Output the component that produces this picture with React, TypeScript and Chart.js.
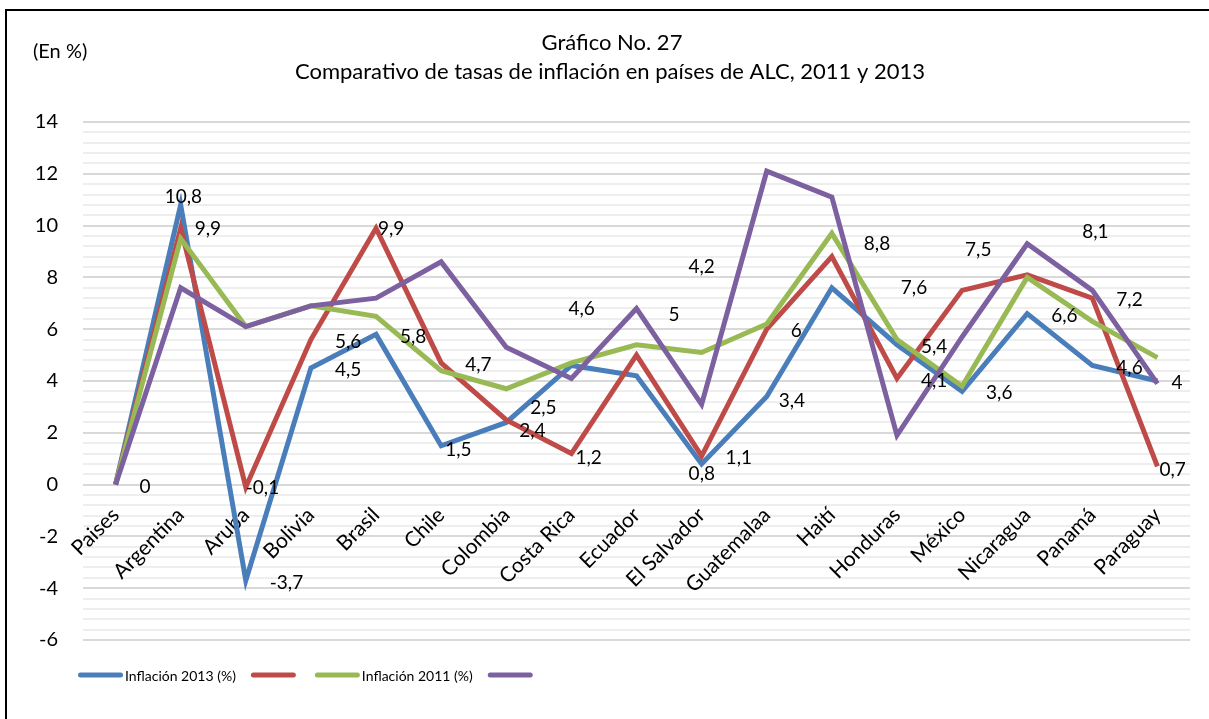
import React, { useEffect, useRef } from 'react';
import { Chart, registerables } from 'chart.js';

Chart.register(...registerables);

const categories = ['Paises', 'Argentina', 'Aruba', 'Bolivia', 'Brasil', 'Chile', 'Colombia', 'Costa Rica', 'Ecuador', 'El Salvador', 'Guatemalaa', 'Haití', 'Honduras', 'México', 'Nicaragua', 'Panamá', 'Paraguay'];
const inflacion2013 = [0, 10.8, -3.7, 4.5, 5.8, 1.5, 2.4, 4.6, 4.2, 0.8, 3.4, 7.6, 5.4, 3.6, 6.6, 4.6, 4];
const serieRoja = [0, 9.9, -0.1, 5.6, 9.9, 4.7, 2.5, 1.2, 5, 1.1, 6, 8.8, 4.1, 7.5, 8.1, 7.2, 0.7];
const inflacion2011 = [0, 9.5, 6.1, 6.9, 6.5, 4.4, 3.7, 4.7, 5.4, 5.1, 6.2, 9.7, 5.6, 3.8, 8.0, 6.3, 4.9];
const serieMorada = [0, 7.6, 6.1, 6.9, 7.2, 8.6, 5.3, 4.1, 6.8, 3.1, 12.1, 11.1, 1.9, 5.7, 9.3, 7.5, 3.9];
const seriesLabels = ['Inflación 2013 (%)', '', 'Inflación 2011 (%)', ''];
const seriesColors = ['#4a7ebb', '#be4b48', '#98b954', '#7d60a0'];
const titleLines = ['Gráfico No. 27', 'Comparativo de tasas de inflación en países de ALC, 2011 y 2013'];
const unitLabel = '(En %)';
const yMin = -6;
const yMax = 14;
const yMajorStep = 2;
const yMinorStep = 0.4;

const FONT = 'Lato, "Open Sans", sans-serif';

// label placement offsets (style only): [dx from point to label left, dy of label centre]
const DEFAULT_OFFSET: [number, number] = [24, 2];
const labelOffsets: Record<string, [number, number]> = {
  '0-1': [-16, -8], '0-5': [4, 4], '0-6': [13, 8], '0-7': [-3, -57], '0-8': [52, -109],
  '0-9': [-13, 10], '0-10': [12, 4], '0-11': [69, 0], '0-16': [14, 2],
  '1-1': [14, 1], '1-2': [0, 1], '1-4': [2, 1], '1-6': [24, -12], '1-7': [4, 4],
  '1-8': [32, -40], '1-11': [32, -13], '1-13': [3, -40], '1-14': [55, -43], '1-16': [2, 3],
};
const labelledSeries = [0, 1];
const hiddenLabels = new Set(['1-0']);

const fmt = (v: number) => String(v).replace('.', ',');
const isMajor = (v: number) => Math.abs(v / yMajorStep - Math.round(v / yMajorStep)) < 1e-6;

const decorPlugin = {
  id: 'decor',
  afterDatasetsDraw(chart: any) {
    const ctx = chart.ctx;
    ctx.save();
    ctx.fillStyle = '#000';
    ctx.textBaseline = 'middle';
    ctx.textAlign = 'left';
    ctx.font = `19px ${FONT}`;
    labelledSeries.forEach((ds) => {
      const meta = chart.getDatasetMeta(ds);
      const data = chart.data.datasets[ds].data as number[];
      meta.data.forEach((pt: any, i: number) => {
        const key = `${ds}-${i}`;
        if (hiddenLabels.has(key)) return;
        const [dx, dy] = labelOffsets[key] || DEFAULT_OFFSET;
        ctx.fillText(fmt(data[i]), pt.x + dx, pt.y + dy);
      });
    });
    ctx.restore();
  },
  afterDraw(chart: any) {
    const ctx = chart.ctx;
    ctx.save();
    ctx.fillStyle = '#000';
    ctx.textBaseline = 'middle';
    ctx.textAlign = 'center';
    ctx.font = `22px ${FONT}`;
    ctx.fillText(titleLines[0], 612, 43);
    ctx.fillText(titleLines[1], 610, 72);
    ctx.textAlign = 'left';
    ctx.font = `20px ${FONT}`;
    ctx.fillText(unitLabel, 33, 52);

    // legend
    let x = 78;
    const y = 675;
    ctx.font = `14px ${FONT}`;
    chart.data.datasets.forEach((ds: any) => {
      ctx.strokeStyle = ds.borderColor;
      ctx.lineWidth = 5;
      ctx.lineCap = 'round';
      ctx.beginPath();
      ctx.moveTo(x + 2.5, y);
      ctx.lineTo(x + 42.5, y);
      ctx.stroke();
      x += 47;
      const t = ds.label || '';
      ctx.fillText(t, x, y + 1);
      x += ctx.measureText(t).width + (t ? 15 : 17);
    });
    ctx.restore();
  },
};

export default function App() {
  const ref = useRef<HTMLCanvasElement | null>(null);

  useEffect(() => {
    if (!ref.current) return;
    const series = [inflacion2013, serieRoja, inflacion2011, serieMorada];
    const chart = new Chart(ref.current, {
      type: 'line',
      data: {
        labels: categories,
        datasets: series.map((d, i) => ({
          label: seriesLabels[i],
          data: d,
          borderColor: seriesColors[i],
          backgroundColor: seriesColors[i],
          borderWidth: 5,
          pointRadius: 0,
          pointHoverRadius: 0,
          tension: 0,
          fill: false,
          order: 3 - i,
        })),
      },
      options: {
        responsive: false,
        animation: false,
        layout: { padding: { left: 0, right: 19, top: 122, bottom: 79 } },
        plugins: {
          legend: { display: false },
          title: { display: false },
          tooltip: { enabled: false },
        },
        scales: {
          x: {
            type: 'category',
            position: { y: 0 } as any,
            offset: true,
            grid: { display: false },
            border: { display: false },
            ticks: {
              font: { family: FONT, size: 21 },
              color: '#000',
              maxRotation: 45,
              minRotation: 45,
              autoSkip: false,
              padding: 10,
            },
          },
          y: {
            min: yMin,
            max: yMax,
            afterFit: (s: any) => { s.width = 83; },
            border: { display: false },
            grid: {
              drawTicks: false,
              lineWidth: 2,
              color: (c: any) => (isMajor(c.tick.value) ? '#d9d9d9' : '#eeeeee'),
            },
            ticks: {
              stepSize: yMinorStep,
              autoSkip: false,
              padding: 25,
              color: '#000',
              font: { family: FONT, size: 20 },
              callback: (v: any) => (isMajor(Number(v)) ? String(Math.round(Number(v))) : ''),
            },
          },
        },
      },
      plugins: [decorPlugin],
    });
    return () => chart.destroy();
  }, []);

  return (
    <div style={{ position: 'fixed', left: 0, top: 0, width: 1209, height: 719, overflow: 'hidden', background: '#fff' }}>
      <div style={{ position: 'absolute', left: 5, top: 9, width: 1300, height: 800, border: '2px solid #000' }} />
      <canvas ref={ref} width={1209} height={719} style={{ position: 'absolute', left: 0, top: 0, width: 1209, height: 719 }} />
    </div>
  );
}
